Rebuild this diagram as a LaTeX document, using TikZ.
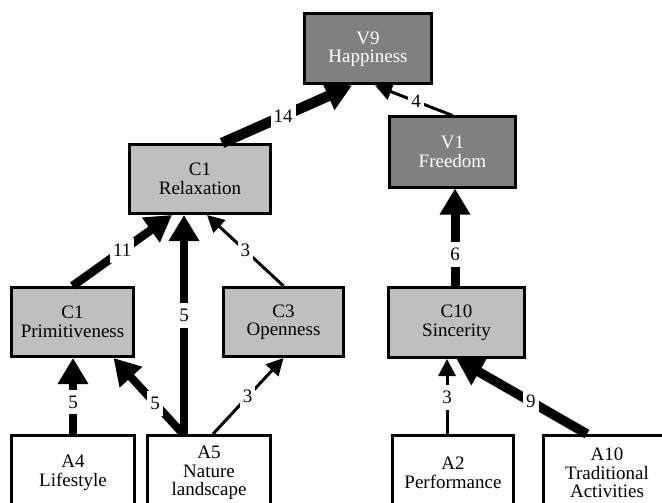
\documentclass[tikz,border=0pt]{standalone}
\usepackage{fontspec}
\setmainfont{Liberation Serif}
\usetikzlibrary{arrows.meta}
\tikzset{
  box/.style={draw, line width=3pt, align=center, inner sep=2pt,
    font=\fontsize{19}{18.5}\selectfont},
  valbox/.style={box, fill=black!50, text=white, minimum height=70pt},
  consbox/.style={box, fill=black!25, minimum height=69pt},
  attrbox/.style={box, fill=white, minimum height=75pt},
  wide/.style={line width=#1, -{Triangle[length=26pt,width=29pt]}},
  slim/.style={line width=3pt, -{Triangle[length=17pt,width=17pt]}},
  num/.style={fill=white, inner xsep=3pt, inner ysep=6pt, font=\fontsize{19}{19}\selectfont}
}
\begin{document}
\begin{tikzpicture}[x=1pt,y=-1pt]
  \useasboundingbox (0,0) rectangle (662,503);
  \clip (0,0) rectangle (662,503);
  \node [valbox, minimum width=127pt] (hap) at (368,49) {V9\\Happiness};
  \node [valbox, minimum width=126pt] (free) at (452.5,152) {V1\\Freedom};
  \node [consbox, minimum width=141pt] (relax) at (200,179) {C1\\Relaxation};
  \node [consbox, minimum width=122pt] (prim) at (72.5,322) {C1\\Primitiveness};
  \node [consbox, minimum width=120pt] (open) at (283.5,322) {C3\\Openness};
  \node [consbox, minimum width=136pt, minimum height=70pt] (sinc) at (456.5,322.5) {C10\\Sincerity};
  \node [attrbox, minimum width=123pt] (life) at (73,473) {A4\\Lifestyle};
  \node [attrbox, minimum width=123pt] (nat) at (209,473) {A5\\Nature\\landscape};
  \node [attrbox, minimum width=121pt] (perf) at (453,473) {A2\\Performance};
  \node [attrbox, minimum width=128pt] (trad) at (607,473) {A10\\Traditional\\Activities};

  \draw [wide=10.5pt] ([xshift=22pt]relax.north) -- ([xshift=-16pt]hap.south) node [num, pos=.47] {14};
  \draw [slim] (free.north) -- ([xshift=7pt]hap.south) node [num, pos=.47] {4};
  \draw [wide=8.5pt] (prim.north) -- ([xshift=-28pt]relax.south) node [num, pos=.5] {11};
  \draw [wide=8pt] ([xshift=-25pt]nat.north) -- ([xshift=-16pt]relax.south) node [num, pos=.54] {5};
  \draw [slim] (open.north) -- ([xshift=7pt]relax.south) node [num, pos=.5] {3};
  \draw [wide=8pt] (life.north) -- (life.north |- prim.south) node [num, pos=.42] {5};
  \draw [wide=8pt] ([xshift=-26pt]nat.north) -- ([xshift=41pt]prim.south) node [num, pos=.4] {5};
  \draw [slim] ([xshift=4pt]nat.north) -- (open.south) node [num, pos=.49] {3};
  \draw [wide=9pt] ([xshift=-1.5pt]sinc.north) -- ([xshift=-1.5pt]sinc.north |- free.south) node [num, pos=.32] {6};
  \draw [slim] ([xshift=-6pt]perf.north) -- ([xshift=-6pt]perf.north |- sinc.south) node [num, pos=.49] {3};
  \draw [wide=9.5pt] ([xshift=-20pt]trad.north) -- (sinc.south) node [num, pos=.43] {9};
\end{tikzpicture}
\end{document}
